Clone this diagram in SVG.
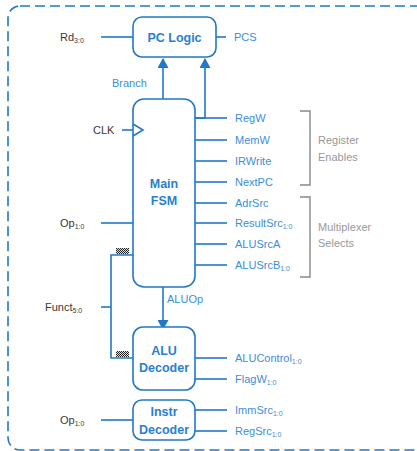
<svg xmlns="http://www.w3.org/2000/svg" width="417" height="451" viewBox="0 0 417 451">
<style>
.ln{stroke:#1f78c8;stroke-width:1.6;fill:none}
.box{stroke:#1f78c8;stroke-width:1.6;fill:#fff}
.bt{font-family:"Liberation Sans",Arial,sans-serif;font-size:12.5px;font-weight:bold;fill:#2a80d0;text-anchor:middle}
.lb{font-family:"Liberation Sans",Arial,sans-serif;font-size:11px;fill:#3d8ddb}
.bk{font-family:"Liberation Sans",Arial,sans-serif;font-size:11px;fill:#3a3a3a}
.gr{font-family:"Liberation Sans",Arial,sans-serif;font-size:11px;fill:#999}
.sb{font-size:7px}
.br{stroke:#888;stroke-width:1.4;fill:none}
</style>
<defs>
<marker id="ah" markerWidth="11" markerHeight="11" refX="9" refY="5.5" orient="auto" markerUnits="userSpaceOnUse">
<path d="M0,0 L10,5.5 L0,11 z" fill="#1f78c8"/>
</marker>
<pattern id="chk" width="2" height="2" patternUnits="userSpaceOnUse">
<rect width="2" height="2" fill="#ddd"/>
<rect width="1" height="1" fill="#222"/>
<rect x="1" y="1" width="1" height="1" fill="#222"/>
</pattern>
</defs>
<rect x="8" y="6" width="420" height="444" rx="12" fill="none" stroke="#1f78c8" stroke-width="1.6" stroke-dasharray="10 5"/>

<g id="connectors">
<line class="ln" x1="101" y1="37" x2="133" y2="37"/>
<line class="ln" x1="216" y1="37" x2="226" y2="37"/>
<line class="ln" x1="163" y1="99" x2="163" y2="59" marker-end="url(#ah)"/>
<polyline class="ln" points="195,118 205,118 205,59" marker-end="url(#ah)"/>
<line class="ln" x1="122" y1="130" x2="133" y2="130"/>
<line class="ln" x1="195" y1="118" x2="227" y2="118"/>
<line class="ln" x1="195" y1="140" x2="227" y2="140"/>
<line class="ln" x1="195" y1="161" x2="227" y2="161"/>
<line class="ln" x1="195" y1="182" x2="227" y2="182"/>
<line class="ln" x1="195" y1="203" x2="227" y2="203"/>
<line class="ln" x1="195" y1="223" x2="227" y2="223"/>
<line class="ln" x1="195" y1="244" x2="227" y2="244"/>
<line class="ln" x1="195" y1="265" x2="227" y2="265"/>
<line class="ln" x1="101" y1="223" x2="133" y2="223"/>
<line class="ln" x1="101" y1="307" x2="111" y2="307"/>
<polyline class="ln" points="133,255 111,255 111,358 133,358"/>
<line class="ln" x1="163" y1="287" x2="163" y2="329" marker-end="url(#ah)"/>
<line class="ln" x1="195" y1="358" x2="227" y2="358"/>
<line class="ln" x1="195" y1="379" x2="227" y2="379"/>
<line class="ln" x1="101" y1="420" x2="133" y2="420"/>
<line class="ln" x1="195" y1="410" x2="227" y2="410"/>
<line class="ln" x1="195" y1="431" x2="227" y2="431"/>
<rect x="116" y="248" width="13" height="6" fill="url(#chk)"/>
<rect x="116" y="351" width="13" height="6" fill="url(#chk)"/>
</g>

<g id="pclogic">
<rect class="box" x="133" y="17" width="83" height="40" rx="9"/>
<text class="bt" x="174.5" y="41.5">PC Logic</text>
</g>

<g id="mainfsm">
<rect class="box" x="133" y="99" width="62" height="188" rx="11"/>
<polyline class="ln" points="133,124 143,130 133,136"/>
<text class="bt" x="164" y="188">Main</text>
<text class="bt" x="164" y="205">FSM</text>
</g>

<g id="aludecoder">
<rect class="box" x="133" y="327" width="62" height="63" rx="10"/>
<text class="bt" x="164" y="355">ALU</text>
<text class="bt" x="164" y="372">Decoder</text>
</g>

<g id="instrdecoder">
<rect class="box" x="133" y="400" width="62" height="40" rx="9"/>
<text class="bt" x="164" y="416">Instr</text>
<text class="bt" x="164" y="434">Decoder</text>
</g>

<g id="labels">
<text class="bk" x="60" y="41">Rd<tspan class="sb" dy="2">3:0</tspan></text>
<text class="lb" x="234" y="41">PCS</text>
<text class="lb" x="112" y="87">Branch</text>
<text class="bk" x="93" y="134">CLK</text>
<text class="lb" x="235" y="122">RegW</text>
<text class="lb" x="235" y="144">MemW</text>
<text class="lb" x="235" y="165">IRWrite</text>
<text class="lb" x="235" y="186">NextPC</text>
<text class="lb" x="235" y="207">AdrSrc</text>
<text class="lb" x="235" y="227">ResultSrc<tspan class="sb" dy="2">1:0</tspan></text>
<text class="lb" x="235" y="248">ALUSrcA</text>
<text class="lb" x="235" y="269">ALUSrcB<tspan class="sb" dy="2">1:0</tspan></text>
<polyline class="br" points="300,111 310,111 310,185 300,185"/>
<text class="gr" x="318" y="144">Register</text>
<text class="gr" x="318" y="161">Enables</text>
<polyline class="br" points="300,197 310,197 310,277 300,277"/>
<text class="gr" x="318" y="231">Multiplexer</text>
<text class="gr" x="318" y="247">Selects</text>
<text class="bk" x="60" y="227">Op<tspan class="sb" dy="2">1:0</tspan></text>
<text class="bk" x="45" y="311">Funct<tspan class="sb" dy="2">5:0</tspan></text>
<text class="lb" x="167" y="303">ALUOp</text>
<text class="lb" x="235" y="362">ALUControl<tspan class="sb" dy="2">1:0</tspan></text>
<text class="lb" x="235" y="383">FlagW<tspan class="sb" dy="2">1:0</tspan></text>
<text class="bk" x="60" y="424">Op<tspan class="sb" dy="2">1:0</tspan></text>
<text class="lb" x="235" y="414">ImmSrc<tspan class="sb" dy="2">1:0</tspan></text>
<text class="lb" x="235" y="435">RegSrc<tspan class="sb" dy="2">1:0</tspan></text>
</g>
</svg>
